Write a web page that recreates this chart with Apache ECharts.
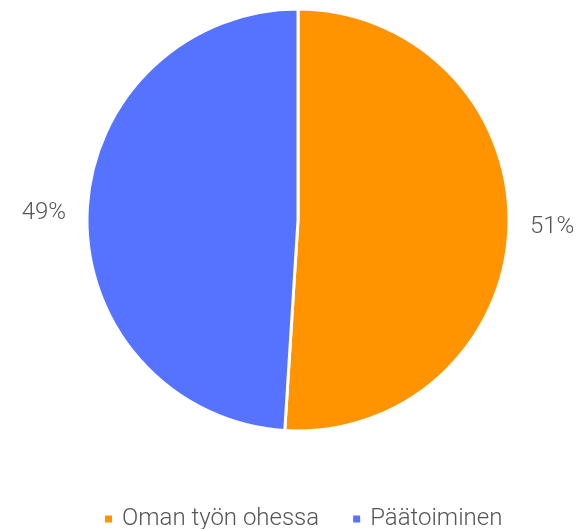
<!DOCTYPE html>
<html>
<head>
<meta charset="utf-8">
<script src="https://cdn.jsdelivr.net/npm/echarts@6/dist/echarts.min.js"></script>
<style>
  html, body { margin: 0; padding: 0; background: #fff; }
  #chart { width: 582px; height: 529px; }
</style>
</head>
<body>
<div id="chart"></div>
<script>
// Share of respondents by working mode (percent)
const categories = ['Oman työn ohessa', 'Päätoiminen'];
const shares = [51, 49];
const colors = ['#FF9300', '#5573FF'];

const chart = echarts.init(document.getElementById('chart'), null, { renderer: 'canvas' });

chart.setOption({
  animation: false,
  color: colors,
  legend: {
    top: 502,
    left: 98,
    itemWidth: 9,
    itemHeight: 9,
    itemGap: 32,
    icon: 'rect',
    textStyle: {
      fontFamily: 'Roboto',
      fontWeight: 300,
      fontSize: 24,
      color: '#555',
      padding: [0, 0, 0, 4]
    },
    data: categories
  },
  series: [{
    type: 'pie',
    center: [298, 220],
    radius: [0, 211],
    startAngle: 90,
    clockwise: true,
    avoidLabelOverlap: false,
    itemStyle: { borderColor: '#fff', borderWidth: 3 },
    label: {
      show: true,
      position: 'outside',
      formatter: '{d}%',
      fontFamily: 'Roboto',
      fontWeight: 300,
      fontSize: 24,
      color: '#555'
    },
    labelLine: { show: false, length: 16, length2: 0 },
    data: categories.map((name, i) => ({ name, value: shares[i] }))
  }]
});
</script>
</body>
</html>
